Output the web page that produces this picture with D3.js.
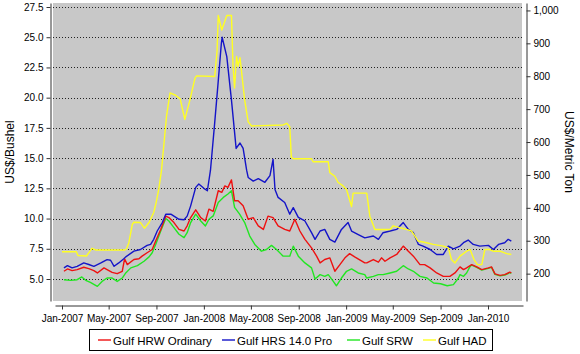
<!DOCTYPE html>
<html><head><meta charset="utf-8">
<script src="https://cdn.jsdelivr.net/npm/d3@7"></script>
<style>
body{margin:0;background:#fff;}
svg{display:block;font-family:"Liberation Sans",Arial,sans-serif;}
</style>
</head><body>
<svg id="chart" width="580" height="354"></svg>
<script>
// ---------- DATA ----------
const seriesNames = ["Gulf HRW Ordinary", "Gulf HRS 14.0 Pro", "Gulf SRW", "Gulf HAD"];

const hrwOrdinary = [
["2007-01-06",5.64],["2007-01-15",5.83],["2007-01-27",5.69],["2007-02-09",5.78],["2007-02-26",5.97],["2007-03-11",5.86],["2007-03-24",5.69],["2007-04-02",5.50],["2007-04-19",5.92],["2007-04-27",5.78],["2007-05-10",5.55],["2007-05-23",5.44],["2007-06-05",5.64],["2007-06-11",6.67],["2007-06-18",6.19],["2007-07-05",6.61],["2007-07-18",6.67],["2007-07-26",6.89],["2007-08-08",7.17],["2007-08-21",7.44],["2007-08-30",8.14],["2007-09-12",9.10],["2007-09-25",10.20],["2007-10-03",10.08],["2007-10-16",9.67],["2007-10-29",9.10],["2007-11-11",8.97],["2007-11-19",9.40],["2007-11-28",10.08],["2007-12-11",10.72],["2007-12-24",10.08],["2008-01-05",9.80],["2008-01-14",10.78],["2008-01-25",10.60],["2008-02-07",12.30],["2008-02-16",12.17],["2008-02-24",12.70],["2008-03-03",12.58],["2008-03-12",13.20],["2008-03-20",11.47],["2008-03-29",11.47],["2008-04-11",11.05],["2008-04-24",9.94],["2008-05-07",10.08],["2008-05-20",9.40],["2008-06-02",9.10],["2008-06-14",10.20],["2008-06-27",10.08],["2008-07-10",9.40],["2008-07-27",9.10],["2008-08-09",8.97],["2008-08-22",9.94],["2008-09-04",8.97],["2008-09-17",8.28],["2008-10-04",7.58],["2008-10-17",6.89],["2008-10-26",6.33],["2008-11-07",6.61],["2008-11-20",6.75],["2008-12-03",5.64],["2008-12-16",6.19],["2008-12-29",6.75],["2009-01-10",7.10],["2009-01-23",6.83],["2009-02-18",6.33],["2009-02-23",6.33],["2009-03-12",6.61],["2009-03-25",6.39],["2009-04-02",6.75],["2009-04-11",6.47],["2009-04-24",6.75],["2009-05-11",7.03],["2009-05-28",7.72],["2009-06-10",7.30],["2009-06-23",6.89],["2009-07-10",6.19],["2009-07-22",6.19],["2009-08-05",5.92],["2009-08-22",5.50],["2009-09-08",5.22],["2009-09-25",5.22],["2009-10-08",5.50],["2009-10-21",6.00],["2009-10-30",5.78],["2009-11-07",5.92],["2009-11-20",6.19],["2009-12-03",6.00],["2009-12-16",5.78],["2010-01-02",5.92],["2010-01-10",6.00],["2010-01-19",5.42],["2010-02-01",5.30],["2010-02-13",5.36],["2010-02-26",5.56],["2010-03-02",5.50]
];

const hrs14Pro = [
["2007-01-06",5.92],["2007-01-15",6.10],["2007-01-27",5.92],["2007-02-09",6.05],["2007-02-26",6.33],["2007-03-11",6.20],["2007-03-24",6.05],["2007-04-11",6.33],["2007-04-27",6.60],["2007-05-06",6.55],["2007-05-15",6.05],["2007-05-27",6.33],["2007-06-09",6.67],["2007-06-14",6.83],["2007-07-05",7.30],["2007-07-22",7.44],["2007-08-08",7.78],["2007-08-17",7.86],["2007-08-25",8.28],["2007-09-03",8.97],["2007-09-16",9.67],["2007-09-25",10.36],["2007-10-08",10.36],["2007-10-16",10.20],["2007-10-29",9.94],["2007-11-11",9.90],["2007-11-19",10.20],["2007-11-28",11.05],["2007-12-11",12.58],["2007-12-19",12.86],["2008-01-01",12.50],["2008-01-10",12.30],["2008-01-18",14.00],["2008-01-28",17.60],["2008-02-06",21.00],["2008-02-15",24.50],["2008-02-17",25.00],["2008-02-29",23.40],["2008-03-12",19.80],["2008-03-24",15.80],["2008-04-03",16.25],["2008-04-11",15.80],["2008-04-20",14.00],["2008-04-24",13.40],["2008-05-07",13.10],["2008-05-20",13.30],["2008-06-06",13.00],["2008-06-19",13.55],["2008-06-27",14.90],["2008-07-02",12.40],["2008-07-10",11.75],["2008-07-27",11.33],["2008-08-09",10.36],["2008-08-18",10.90],["2008-08-31",10.10],["2008-09-17",9.80],["2008-10-04",8.83],["2008-10-13",8.28],["2008-10-26",8.97],["2008-11-07",9.10],["2008-11-20",8.28],["2008-12-03",8.05],["2008-12-20",9.10],["2009-01-06",9.67],["2009-01-15",8.97],["2009-01-31",8.70],["2009-02-18",8.40],["2009-03-12",8.56],["2009-03-25",8.28],["2009-04-06",8.83],["2009-04-24",8.97],["2009-05-11",9.10],["2009-05-28",9.67],["2009-06-10",9.10],["2009-06-23",8.83],["2009-07-06",7.86],["2009-07-18",7.72],["2009-08-05",7.44],["2009-08-22",7.03],["2009-09-08",7.03],["2009-09-21",7.72],["2009-10-04",7.50],["2009-10-21",7.72],["2009-10-30",8.00],["2009-11-11",8.22],["2009-11-24",7.86],["2009-12-11",7.72],["2010-01-02",7.78],["2010-01-15",7.44],["2010-01-28",7.86],["2010-02-13",8.00],["2010-02-22",8.28],["2010-03-02",8.14]
];

const srw = [
["2007-01-06",4.94],["2007-01-23",4.89],["2007-02-09",4.94],["2007-02-21",5.17],["2007-03-03",4.89],["2007-03-15",4.72],["2007-04-02",4.39],["2007-04-14",4.80],["2007-04-27",5.08],["2007-05-10",5.08],["2007-05-23",4.80],["2007-06-05",5.08],["2007-06-14",5.50],["2007-06-27",5.92],["2007-07-14",6.10],["2007-07-31",6.47],["2007-08-13",6.83],["2007-08-21",7.17],["2007-08-30",7.86],["2007-09-12",8.97],["2007-09-25",10.00],["2007-10-03",9.80],["2007-10-16",9.25],["2007-10-29",8.70],["2007-11-11",8.42],["2007-11-19",8.83],["2007-11-28",9.67],["2007-12-11",10.36],["2007-12-24",9.80],["2008-01-05",9.39],["2008-01-14",9.94],["2008-01-25",10.22],["2008-02-07",11.33],["2008-02-20",11.75],["2008-03-03",12.03],["2008-03-12",12.30],["2008-03-20",10.92],["2008-04-02",10.36],["2008-04-15",9.67],["2008-04-28",8.55],["2008-05-11",7.86],["2008-05-28",7.30],["2008-06-10",7.44],["2008-06-23",7.78],["2008-07-06",7.44],["2008-07-23",6.89],["2008-08-09",6.89],["2008-08-18",7.72],["2008-08-31",6.89],["2008-09-17",6.33],["2008-10-04",5.92],["2008-10-13",5.00],["2008-10-26",5.36],["2008-11-07",5.22],["2008-11-16",5.36],["2008-11-29",4.80],["2008-12-07",4.44],["2008-12-20",5.08],["2009-01-02",5.64],["2009-01-15",5.83],["2009-02-01",5.50],["2009-02-18",5.36],["2009-02-23",5.08],["2009-03-12",5.22],["2009-03-25",5.36],["2009-04-06",5.36],["2009-04-24",5.50],["2009-05-11",5.64],["2009-05-28",6.10],["2009-06-10",5.83],["2009-06-23",5.64],["2009-07-10",5.22],["2009-07-28",5.08],["2009-08-14",4.67],["2009-09-01",4.61],["2009-09-18",4.44],["2009-10-04",4.53],["2009-10-17",5.08],["2009-10-21",5.36],["2009-10-30",5.22],["2009-11-07",5.50],["2009-11-16",6.05],["2009-11-20",6.14],["2009-12-03",5.96],["2009-12-16",5.74],["2010-01-02",5.88],["2010-01-10",5.96],["2010-01-19",5.38],["2010-02-01",5.26],["2010-02-13",5.32],["2010-02-26",5.52],["2010-03-02",5.46]
];

const had = [
["2007-01-01",7.26],["2007-02-07",7.26],["2007-02-11",6.95],["2007-03-05",6.90],["2007-03-14",7.30],["2007-03-19",7.54],["2007-03-29",7.40],["2007-06-12",7.40],["2007-06-16",7.50],["2007-06-22",8.00],["2007-07-01",9.53],["2007-07-05",9.70],["2007-07-22",9.67],["2007-08-01",9.20],["2007-08-13",9.67],["2007-08-25",10.50],["2007-08-31",11.30],["2007-09-07",12.44],["2007-09-14",14.00],["2007-09-27",18.50],["2007-10-06",20.40],["2007-10-20",20.20],["2007-11-01",19.90],["2007-11-13",18.20],["2007-11-26",19.80],["2007-12-09",21.60],["2007-12-13",21.80],["2008-01-29",21.75],["2008-02-04",23.90],["2008-02-07",26.80],["2008-02-16",25.60],["2008-02-29",26.80],["2008-03-12",26.80],["2008-03-16",22.60],["2008-03-20",20.80],["2008-03-25",23.40],["2008-03-29",22.60],["2008-04-03",23.30],["2008-04-15",19.80],["2008-04-24",18.00],["2008-05-03",17.66],["2008-07-23",17.74],["2008-08-01",17.88],["2008-08-09",17.60],["2008-08-13",15.10],["2008-08-18",14.95],["2008-10-04",14.95],["2008-10-08",14.70],["2008-11-16",14.70],["2008-11-20",13.80],["2008-12-03",13.50],["2008-12-11",13.00],["2008-12-24",12.70],["2009-01-02",12.40],["2009-01-15",11.00],["2009-01-19",12.10],["2009-02-23",12.10],["2009-03-03",10.20],["2009-03-16",9.10],["2009-04-24",9.10],["2009-05-02",9.40],["2009-05-19",9.25],["2009-06-05",9.10],["2009-06-18",8.97],["2009-06-27",8.55],["2009-07-05",8.14],["2009-07-27",8.00],["2009-08-13",7.86],["2009-09-08",7.72],["2009-09-21",7.58],["2009-09-29",6.61],["2009-10-08",6.33],["2009-10-21",6.89],["2009-11-07",7.30],["2009-11-16",7.44],["2009-11-26",6.61],["2009-12-05",6.19],["2009-12-16",6.19],["2009-12-24",7.44],["2010-01-05",7.44],["2010-01-14",7.30],["2010-02-01",7.30],["2010-02-18",7.10],["2010-03-02",7.03]
];

const leftTicks = [5.0, 7.5, 10.0, 12.5, 15.0, 17.5, 20.0, 22.5, 25.0, 27.5];
const rightTicks = [200, 300, 400, 500, 600, 700, 800, 900, 1000];
const xTickDates = ["2007-01-01","2007-05-01","2007-09-01","2008-01-01","2008-05-01","2008-09-01","2009-01-01","2009-05-01","2009-09-01","2010-01-01"];
const bushelToTon = 36.7437;

// ---------- STYLE / LAYOUT ----------
const colors = ["#ee1111", "#1414c8", "#22e622", "#ffff22"];
const plot = {x0: 53, x1: 522, y0: 3, y1: 301};
const parse = d3.timeParse("%Y-%m-%d");

const svg = d3.select("#chart");

// scales
const x = d3.scaleTime().domain([parse("2007-01-01"), parse("2010-01-01")]).range([62, 488]);
x.domain([x.invert(55), x.invert(523)]).range([55, 523]);
const y = d3.scaleLinear().domain([5, 27.5]).range([279, 7]);
y.domain([y.invert(plot.y1), y.invert(plot.y0)]).range([plot.y1, plot.y0]);
const yR = d3.scaleLinear().domain(y.domain().map(v => v * bushelToTon)).range([plot.y1, plot.y0]);

// plot background
svg.append("rect").attr("x", plot.x0).attr("y", plot.y0)
  .attr("width", plot.x1 - plot.x0).attr("height", plot.y1 - plot.y0)
  .attr("fill", "#c8c8c8");

// grid
svg.append("g").selectAll("line").data(leftTicks).join("line")
  .attr("x1", plot.x0).attr("x2", plot.x1)
  .attr("y1", d => Math.round(y(d)) + 0.5).attr("y2", d => Math.round(y(d)) + 0.5)
  .attr("stroke", "#222").attr("stroke-width", 1).attr("stroke-dasharray", "1,2");

// clip
svg.append("clipPath").attr("id", "clip").append("rect")
  .attr("x", plot.x0).attr("y", plot.y0).attr("width", plot.x1 - plot.x0).attr("height", plot.y1 - plot.y0);

const line = d3.line().x(d => x(parse(d[0]))).y(d => y(d[1]));
const seriesData = [hrwOrdinary, hrs14Pro, srw, had];
const drawOrder = [2, 0, 1, 3];
const gLines = svg.append("g").attr("clip-path", "url(#clip)");
drawOrder.forEach(i => {
  gLines.append("path").datum(seriesData[i])
    .attr("d", line).attr("fill", "none")
    .attr("stroke", colors[i]).attr("stroke-width", 1.4)
    .attr("stroke-linejoin", "round");
});

// axes
const fmtL = d3.format(".1f");
const axL = svg.append("g").attr("transform", "translate(50.5,0)")
  .call(d3.axisLeft(y).tickValues(leftTicks).tickFormat(fmtL).tickSize(4).tickSizeOuter(0).tickPadding(3));
const axR = svg.append("g").attr("transform", "translate(526.5,0)")
  .call(d3.axisRight(yR).tickValues(rightTicks).tickFormat(d3.format(",")).tickSize(4).tickSizeOuter(0).tickPadding(3));
const axB = svg.append("g").attr("transform", "translate(0,305.5)")
  .call(d3.axisBottom(x).tickValues(xTickDates.map(parse)).tickFormat(d3.timeFormat("%b-%Y")).tickSize(4).tickSizeOuter(0).tickPadding(5));
[axL, axR, axB].forEach(a => {
  a.selectAll("text").attr("font-size", 10).attr("font-family", '"Liberation Sans",Arial,sans-serif').attr("fill", "#000");
  a.selectAll("line,path").attr("stroke", "#333");
});

// axis titles
svg.append("text").attr("transform", "translate(14,152) rotate(-90)")
  .attr("text-anchor", "middle").attr("font-size", 12).text("US$/Bushel");
svg.append("text").attr("transform", "translate(565,152) rotate(90)")
  .attr("text-anchor", "middle").attr("font-size", 12).text("US$/Metric Ton");

// legend
svg.append("rect").attr("x", 89.5).attr("y", 329.5).attr("width", 403).attr("height", 21)
  .attr("fill", "#fff").attr("stroke", "#000");
const legendX = [98, 222, 347, 423];
const lg = svg.append("g");
seriesNames.forEach((n, i) => {
  lg.append("line").attr("x1", legendX[i]).attr("x2", legendX[i] + 13)
    .attr("y1", 340).attr("y2", 340).attr("stroke", colors[i]).attr("stroke-width", 1.4);
  lg.append("text").attr("x", legendX[i] + 15).attr("y", 344.5)
    .attr("font-size", 11.5).text(n);
});
</script>
</body></html>
